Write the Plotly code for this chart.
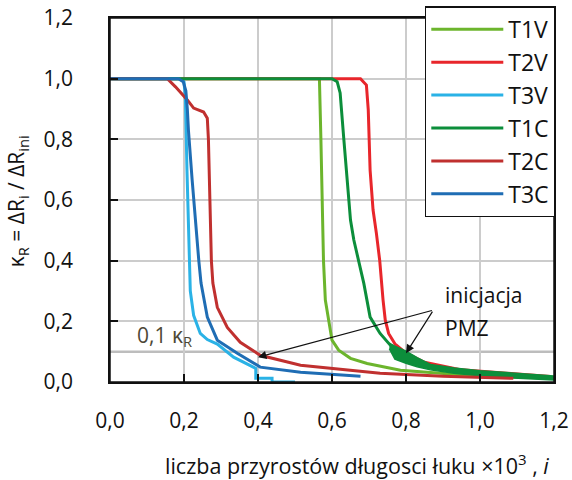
import plotly.graph_objects as go

# ---- data ----
t1v_x = [0, 0.566, 0.570, 0.573, 0.577, 0.582, 0.590, 0.600, 0.618, 0.650, 0.695, 0.785, 0.965, 1.205]
t1v_y = [1.0, 1.0, 0.80, 0.60, 0.40, 0.27, 0.204, 0.138, 0.105, 0.078, 0.061, 0.039, 0.022, 0.012]

t2v_x = [0, 0.677, 0.693, 0.698, 0.703, 0.711, 0.720, 0.729, 0.738, 0.744, 0.753, 0.770, 0.800, 0.850, 0.950, 1.100, 1.190]
t2v_y = [1.0, 1.0, 0.979, 0.897, 0.698, 0.567, 0.490, 0.400, 0.270, 0.204, 0.160, 0.126, 0.095, 0.065, 0.040, 0.025, 0.018]

t3v_x = [0, 0.190, 0.200, 0.204, 0.208, 0.212, 0.217, 0.226, 0.244, 0.263, 0.290, 0.334, 0.388, 0.394, 0.394, 0.438, 0.438, 0.500]
t3v_y = [1.0, 1.0, 0.99, 0.93, 0.70, 0.50, 0.30, 0.22, 0.16, 0.140, 0.125, 0.082, 0.049, 0.045, 0.012, 0.012, 0.0, 0.0]

t1c_x = [0, 0.600, 0.614, 0.622, 0.632, 0.641, 0.650, 0.659, 0.672, 0.686, 0.703, 0.730, 0.757, 0.800, 0.866, 0.930, 1.000, 1.090, 1.200]
t1c_y = [1.0, 1.0, 0.99, 0.953, 0.80, 0.666, 0.534, 0.468, 0.40, 0.325, 0.214, 0.160, 0.122, 0.085, 0.048, 0.037, 0.029, 0.021, 0.014]
# scatter band of T1C after crack initiation
t1c_band_x = [0.755, 0.770, 0.800, 0.830, 0.866, 0.930, 1.000, 1.090, 1.200]
t1c_band_hi = [0.128, 0.118, 0.102, 0.080, 0.058, 0.046, 0.037, 0.029, 0.020]
t1c_band_lo = [0.110, 0.075, 0.062, 0.050, 0.040, 0.029, 0.021, 0.013, 0.007]

t2c_x = [0, 0.155, 0.177, 0.209, 0.226, 0.253, 0.263, 0.266, 0.270, 0.274, 0.278, 0.290, 0.317, 0.352, 0.406, 0.515, 0.730, 0.900, 1.090]
t2c_y = [1.0, 1.0, 0.973, 0.93, 0.903, 0.89, 0.87, 0.80, 0.60, 0.40, 0.326, 0.246, 0.180, 0.131, 0.088, 0.055, 0.029, 0.019, 0.012]

t3c_x = [0, 0.185, 0.198, 0.205, 0.209, 0.212, 0.222, 0.232, 0.240, 0.246, 0.263, 0.290, 0.344, 0.406, 0.515, 0.677]
t3c_y = [1.0, 1.0, 0.99, 0.96, 0.90, 0.83, 0.666, 0.50, 0.40, 0.326, 0.214, 0.138, 0.095, 0.049, 0.032, 0.019]

series_names = ["T1V", "T2V", "T3V", "T1C", "T2C", "T3C"]
series_colors = ["#6cb52d", "#e8262b", "#2ab2e6", "#0c8e3b", "#c0302f", "#1f6db4"]

x_ticks = [0.0, 0.2, 0.4, 0.6, 0.8, 1.0, 1.2]
y_ticks = [0.0, 0.2, 0.4, 0.6, 0.8, 1.0, 1.2]
threshold = 0.1

FONT = "Open Sans"
FS = 21

fig = go.Figure()
xs = [t1v_x, t2v_x, t3v_x, t1c_x, t2c_x, t3c_x]
ys = [t1v_y, t2v_y, t3v_y, t1c_y, t2c_y, t3c_y]
for name, col, x, y in zip(series_names, series_colors, xs, ys):
    fig.add_trace(go.Scatter(x=x, y=y, mode="lines", name=name, legendgroup=name,
                             line=dict(color=col, width=3)))
    if name == "T1C":
        fig.add_trace(go.Scatter(x=t1c_band_x + t1c_band_x[::-1],
                                 y=t1c_band_hi + t1c_band_lo[::-1],
                                 mode="lines", fill="toself", fillcolor=col,
                                 line=dict(color=col, width=1.5),
                                 showlegend=False, hoverinfo="skip"))

fig.add_shape(type="line", x0=0, x1=1.2, y0=threshold, y1=threshold, xref="x", yref="y",
              line=dict(color="#bdbdbd", width=2.5), layer="below")
# plot frame
fig.add_shape(type="rect", x0=0, x1=1, y0=0, y1=1, xref="paper", yref="paper",
              line=dict(color="#111111", width=1.5), fillcolor="rgba(0,0,0,0)", layer="above")

fig.add_annotation(x=0.068, y=0.152, xref="x", yref="y", text="0,1 κ<sub>R</sub>",
                   showarrow=False, xanchor="left", yanchor="middle",
                   font=dict(family=FONT, size=FS, color="#4d4836"))
fig.add_annotation(x=0.90, y=0.286, xref="x", yref="y", text="inicjacja",
                   showarrow=False, xanchor="left", yanchor="middle",
                   font=dict(family=FONT, size=FS, color="#111111"))
fig.add_annotation(x=0.90, y=0.177, xref="x", yref="y", text="PMZ",
                   showarrow=False, xanchor="left", yanchor="middle",
                   font=dict(family=FONT, size=FS, color="#111111"))
for tx, ty in [(0.40, 0.082), (0.80, 0.095)]:
    fig.add_annotation(x=tx, y=ty, ax=0.874, ay=0.237, xref="x", yref="y", axref="x", ayref="y",
                       text="", showarrow=True, arrowhead=2, arrowsize=1.4, arrowwidth=1.2,
                       arrowcolor="#111111")

fig.add_annotation(x=0.557, y=-0.226, xref="paper", yref="paper",
                   text="liczba przyrostów długosci łuku ×10<sup>3</sup> , <i>i</i>",
                   showarrow=False, xanchor="center", yanchor="middle",
                   font=dict(family=FONT, size=21.5, color="#111111"))
fig.add_annotation(x=-0.209, y=0.497, xref="paper", yref="paper",
                   text="κ<sub>R</sub> = ΔR<sub>i</sub> / ΔR<sub>ini</sub>", textangle=-90,
                   showarrow=False, xanchor="center", yanchor="middle",
                   font=dict(family=FONT, size=FS, color="#111111"))

axis_common = dict(showline=True, linecolor="#111111", linewidth=1.5, mirror=True,
                   showgrid=True, gridcolor="#cccccc", gridwidth=1.5, zeroline=False,
                   ticks="inside", ticklen=8, tickwidth=1.5, tickcolor="#111111",
                   tickformat=".1f", automargin=False, ticklabeloverflow="allow",
                   tickfont=dict(family=FONT, size=FS, color="#111111"))
fig.update_xaxes(range=[0, 1.2], tickvals=x_ticks, ticklabelstandoff=19, **axis_common)
fig.update_yaxes(range=[0, 1.2], tickvals=y_ticks, ticklabelstandoff=31, **axis_common)

fig.update_layout(
    width=572, height=480,
    margin=dict(l=110, r=18, t=18, b=98, autoexpand=False),
    paper_bgcolor="white", plot_bgcolor="white",
    separators=", ",
    font=dict(family=FONT, size=FS, color="#111111"),
    showlegend=True,
    legend=dict(x=0.709, y=1.032, xanchor="left", yanchor="top",
                bgcolor="white", bordercolor="#111111", borderwidth=1.5,
                font=dict(family=FONT, size=23, color="#111111"),
                tracegroupgap=0, itemwidth=72, entrywidth=130),
)

# remove the default 8 px page margin so the figure fills the window exactly
fig.write_html("out.html", config={"displayModeBar": False},
               post_script="document.body.style.margin='0px';document.body.style.overflow='hidden';")
